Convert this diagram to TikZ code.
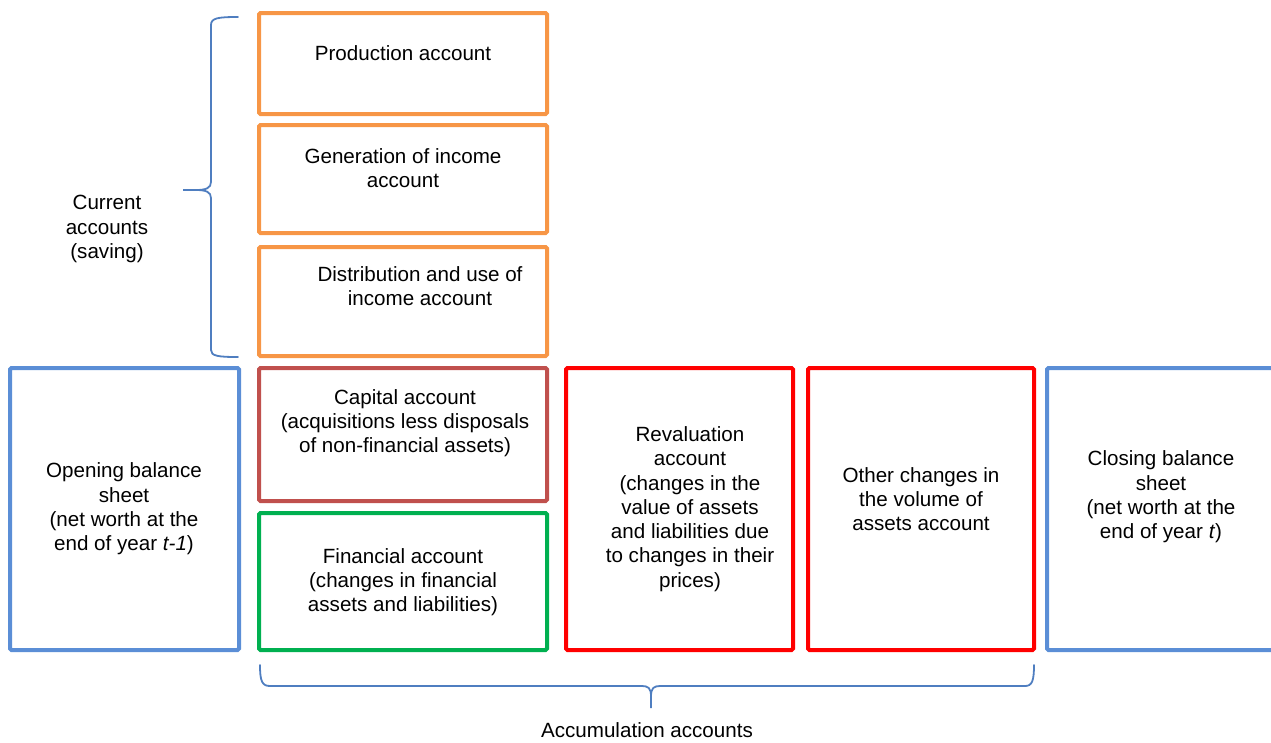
\documentclass[tikz,border=0pt]{standalone}
\usepackage{fontspec}
\setmainfont{Liberation Sans}
\definecolor{corange}{HTML}{F79646}
\definecolor{cblue}{HTML}{5B8ED6}
\definecolor{cbrown}{HTML}{C0504D}
\definecolor{cgreen}{HTML}{00B050}
\definecolor{cred}{HTML}{FF0000}
\definecolor{cbrace}{HTML}{4F7EC0}
\begin{document}
\begin{tikzpicture}[x=1pt,y=-1pt,
  acc/.style={draw=#1,line width=4pt,rounded corners=1.5pt,inner sep=0pt},
  txt/.style={align=center,font=\fontsize{20.6}{24.3}\selectfont,inner sep=0pt,text=black},
  bracestyle/.style={draw=cbrace,line width=1.8pt,line cap=round}]
\useasboundingbox (0,0) rectangle (1271,742);
% boxes
\node[acc=corange,minimum width=288pt,minimum height=101pt] (prod) at (403,63.5) {};
\node[acc=corange,minimum width=288pt,minimum height=108pt] (gen) at (403,179) {};
\node[acc=corange,minimum width=288pt,minimum height=109pt] (dist) at (403,301.5) {};
\node[acc=cblue,minimum width=229pt,minimum height=282pt] (open) at (124.5,509) {};
\node[acc=cbrown,minimum width=288pt,minimum height=133pt] (cap) at (403,434.5) {};
\node[acc=cgreen,minimum width=288pt,minimum height=137pt] (fin) at (403,581.5) {};
\node[acc=cred,minimum width=227pt,minimum height=282pt] (reval) at (679.5,509) {};
\node[acc=cred,minimum width=226pt,minimum height=282pt] (other) at (921,509) {};
\node[acc=cblue,minimum width=236pt,minimum height=282pt] (close) at (1165,509) {};
% texts
\node[txt] (tprod) at (403,53) {Production account};
\node[txt] (tgen) at (403,168) {Generation of income\\account};
\node[txt] (tdist) at (420,286) {Distribution and use of\\income account};
\node[txt] (tcap) at (405,423) {Capital account\\(acquisitions less disposals\\of non-financial assets)};
\node[txt] (tfin) at (403,582) {Financial account\\(changes in financial\\assets and liabilities)};
\node[txt] (treval) at (690,509) {Revaluation\\account\\(changes in the\\value of assets\\and liabilities due\\to changes in their\\prices)};
\node[txt] (tother) at (921,499) {Other changes in\\the volume of\\assets account};
\node[txt] (tclose) at (1161,497) {Closing balance\\sheet\\(net worth at the\\end of year \textit{t})};
\node[txt] (topen) at (124,509) {Opening balance\\sheet\\(net worth at the\\end of year \textit{t-1})};
\node[txt] (tcur) at (107,229) {Current\\accounts\\(saving)};
\node[txt] (tacc) at (647,730) {Accumulation accounts};
% left brace
\coordinate (lbtop) at (238,17);
\coordinate (lbtip) at (183,190);
\coordinate (lbbot) at (238,357);
\draw[bracestyle] (lbtop) .. controls (218,17) and (211,18) .. (211,25)
  -- (211,182) .. controls (211,188) and (206,190) .. (196,190) -- (lbtip)
  -- (196,190) .. controls (206,190) and (211,192) .. (211,198)
  -- (211,350) .. controls (211,356) and (218,357) .. (lbbot);
% bottom brace
\coordinate (bbl) at (260,665);
\coordinate (bbtip) at (651,708);
\coordinate (bbr) at (1034,665);
\draw[bracestyle] (bbl) .. controls (260,681) and (262,686) .. (270,686)
  -- (642,686) .. controls (648,686) and (651,688) .. (651,696) -- (bbtip)
  -- (651,696) .. controls (651,688) and (654,686) .. (660,686)
  -- (1025,686) .. controls (1032,686) and (1034,681) .. (bbr);
\end{tikzpicture}
\end{document}
